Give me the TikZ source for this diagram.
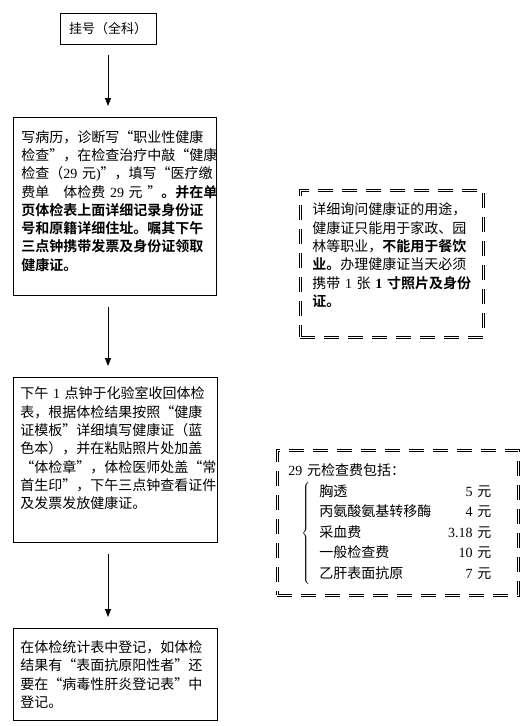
\documentclass[tikz,border=0pt]{standalone}
\usepackage{fontspec}
\setmainfont{Noto Sans CJK SC}[BoldFont={Noto Sans CJK SC Bold}]
\newfontfamily\latinfont{Liberation Serif}
\usetikzlibrary{arrows.meta,positioning}

\begin{document}
\begin{tikzpicture}[x=1pt,y=-1pt,
block/.style={rectangle,draw,line width=0.8pt,anchor=north west,align=left,
inner xsep=8pt,inner ysep=0pt,font=\fontsize{14}{18.3}\selectfont},
note/.style={block,double,double distance=1.5pt,dash pattern=on 15pt off 9pt},
flow/.style={-{Triangle[length=8pt,width=6pt]},line width=0.8pt,
shorten <=11pt,shorten >=11pt}]
    \useasboundingbox (0,0) rectangle (530,726);
    \node[block,anchor=center,minimum width=96pt,minimum height=31pt,
      font=\fontsize{13}{15}\selectfont] (reg) at (108,28.5) {挂号（全科）};
    \node[block,minimum width=203pt,minimum height=178pt,text width=187pt] (record) at (13,117)
      {写病历，诊断写“职业性健康\\
       检查”，在检查治疗中敲“健康\\
       检查（{\latinfont 29}~元{\latinfont )}”，填写“医疗缴\\
       费单　体检费~{\latinfont 29}~元~”\textbf{。并在单\\
       页体检表上面详细记录身份证\\
       号和原籍详细住址。嘱其下午\\
       三点钟携带发票及身份证领取\\
       健康证。}\\[-6pt]\mbox{}};
    \node[block,minimum width=204pt,minimum height=165pt,text width=190pt,inner xsep=7pt] (issue) at (13,377)
      {下午~{\latinfont 1}~点钟于化验室收回体检\\
       表，根据体检结果按照“健康\\
       证模板”详细填写健康证（蓝\\
       色本），并在粘贴照片处加盖\\
       “体检章”，体检医师处盖“常\\
       首生印”，下午三点钟查看证件\\
       及发票发放健康证。\\[6pt]\mbox{}};
    \node[block,minimum width=204pt,minimum height=92pt,text width=190pt,inner xsep=7pt] (log) at (13,628)
      {在体检统计表中登记，如体检\\
       结果有“表面抗原阳性者”还\\
       要在“病毒性肝炎登记表”中\\
       登记。};
    \node[note,minimum width=183pt,minimum height=147pt,text width=159pt,inner xsep=12pt] (usage) at (300,190)
      {详细询问健康证的用途，\\
       健康证只能用于家政、园\\
       林等职业，\textbf{不能用于餐饮\\
       业。}办理健康证当天必须\\
       携带~{\latinfont 1}~张~\textbf{{\latinfont 1}~寸照片及身份\\
       证。}\\\mbox{}};
    \node[note,minimum width=241pt,minimum height=145pt,text width=219pt,inner xsep=11pt,
      font=\fontsize{14}{20.5}\selectfont] (fee) at (277,450)
      {\begin{tabular}{@{}l@{}}
       {\latinfont 29}~元检查费包括：\\
       \hspace{13pt}$\left\{\hspace{9pt}\begin{tabular*}{172pt}{@{}l@{\extracolsep{\fill}}r@{}}
         胸透 & {\latinfont 5}~元\\
         丙氨酸氨基转移酶 & {\latinfont 4}~元\\
         采血费 & {\latinfont 3.18}~元\hspace{3pt}\\
         一般检查费 & {\latinfont 10}~元\\
         乙肝表面抗原 & {\latinfont 7}~元
       \end{tabular*}\right.$
       \end{tabular}};
    \draw[flow] (reg) -- (reg |- record.north);
    \draw[flow] (reg |- record.south) -- (reg |- issue.north);
    \draw[flow] (reg |- issue.south) -- (reg |- log.north);
\end{tikzpicture}
\end{document}
